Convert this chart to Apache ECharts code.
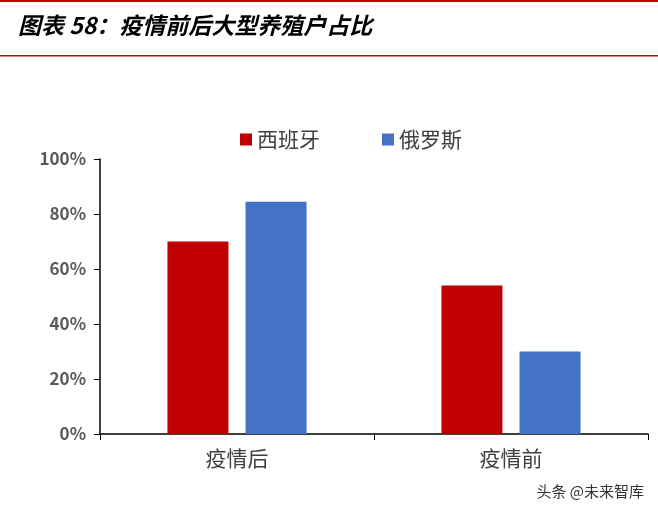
<!DOCTYPE html>
<html><head><meta charset="utf-8">
<script src="https://cdn.jsdelivr.net/npm/echarts@6/dist/echarts.min.js"></script>
<style>html,body{margin:0;padding:0;background:#fff}#c{width:658px;height:513px}</style>
</head><body><div id="c"></div>
<script>
const categories = ['疫情后', '疫情前'];
const spain = [70, 54];
const russia = [84.5, 30];
const seriesNames = ['西班牙', '俄罗斯'];
const chart = echarts.init(document.getElementById('c'));
const font = '"Noto Sans CJK SC", sans-serif';
chart.setOption({
  animation: false,
  graphic: [
    {type:'rect', shape:{x:0,y:0,width:658,height:2}, style:{fill:'#C00000'}},
    {type:'text', left:18, top:14, style:{text:'图表 58：疫情前后大型养殖户占比', font:'italic bold 23px "Noto Sans CJK SC"', fill:'#000'}},
    {type:'rect', shape:{x:0,y:55,width:658,height:1.5}, style:{fill:'#C00000'}},
    {type:'text', right:14, bottom:14, style:{text:'头条 @未来智库', font:'15px "Noto Sans CJK SC"', fill:'#333'}}
  ],
  legend: {top: 124, left: 235, itemWidth: 12, itemHeight: 12, itemGap: 62, icon: 'rect',
    textStyle: {fontFamily: font, fontSize: 21, color: '#404040'}, data: seriesNames},
  grid: {left: 100, right: 10, top: 159, bottom: 79},
  xAxis: {type: 'category', data: categories,
    axisLine: {lineStyle: {color: '#000', width: 1.5}},
    axisTick: {show: true, length: 6, lineStyle: {color: '#000'}},
    axisLabel: {fontFamily: font, fontSize: 21, color: '#404040', margin: 14}},
  yAxis: {type: 'value', min: 0, max: 100, interval: 20,
    axisLine: {show: true, lineStyle: {color: '#000', width: 1.5}},
    axisTick: {show: true, length: 6, lineStyle: {color: '#000'}},
    splitLine: {show: false},
    axisLabel: {formatter: '{value}%', fontFamily: font, fontSize: 17, fontWeight: 'bold', color: '#595959', margin: 14}},
  series: [
    {name: seriesNames[0], type: 'bar', data: spain, barWidth: 61, barGap: '28%', itemStyle: {color: '#C00000'}},
    {name: seriesNames[1], type: 'bar', data: russia, barWidth: 61, itemStyle: {color: '#4472C4'}}
  ]
});
</script></body></html>
